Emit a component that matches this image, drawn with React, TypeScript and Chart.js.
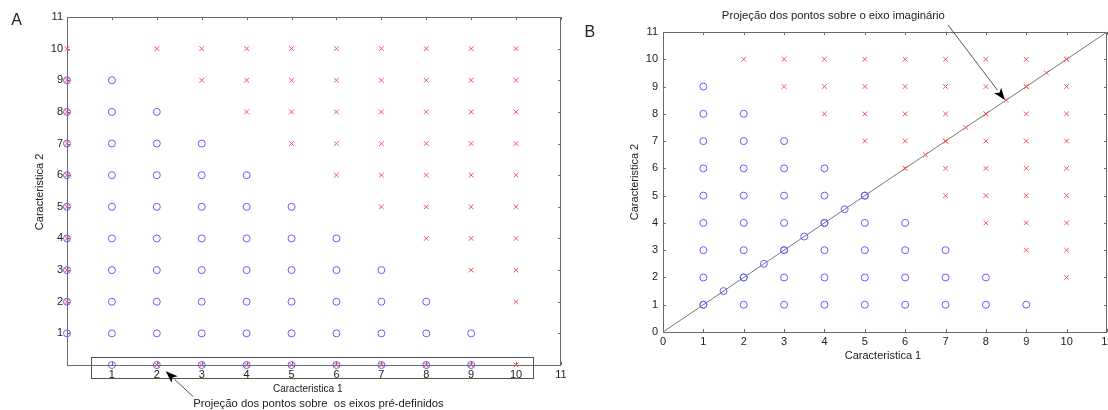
import React, { useEffect, useRef } from 'react';
import { Chart, registerables } from 'chart.js';

Chart.register(...registerables);

// ---------- data ----------
const AXIS_MIN = 0;
const AXIS_MAX = 11;
const tickValues = [0, 1, 2, 3, 4, 5, 6, 7, 8, 9, 10, 11];

// class 1 (blue circles): one row per y value, listing its x values
const circleRowY = [1, 2, 3, 4, 5, 6, 7, 8, 9];
const circleRowX = [
  [1, 2, 3, 4, 5, 6, 7, 8, 9],
  [1, 2, 3, 4, 5, 6, 7, 8],
  [1, 2, 3, 4, 5, 6, 7],
  [1, 2, 3, 4, 5, 6],
  [1, 2, 3, 4, 5],
  [1, 2, 3, 4],
  [1, 2, 3],
  [1, 2],
  [1],
];

// class 2 (red crosses)
const crossRowY = [2, 3, 4, 5, 6, 7, 8, 9, 10];
const crossRowX = [
  [10],
  [9, 10],
  [8, 9, 10],
  [7, 8, 9, 10],
  [6, 7, 8, 9, 10],
  [5, 6, 7, 8, 9, 10],
  [4, 5, 6, 7, 8, 9, 10],
  [3, 4, 5, 6, 7, 8, 9, 10],
  [2, 3, 4, 5, 6, 7, 8, 9, 10],
];

const axisTitleX = 'Caracteristica 1';
const axisTitleY = 'Caracteristica 2';
const noteA = 'Projeção dos pontos sobre  os eixos pré-definidos';
const noteB = 'Projeção dos pontos sobre o eixo imaginário';

// ---------- derived points ----------
type P = { x: number; y: number };
const toPoints = (ys: number[], xs: number[][]): P[] =>
  ys.flatMap((y, i) => xs[i].map((x) => ({ x, y })));

const circlePts = toPoints(circleRowY, circleRowX);
const crossPts = toPoints(crossRowY, crossRowX);

const uniq = (a: number[]) => Array.from(new Set(a)).sort((p, q) => p - q);
// projections onto the predefined axes
const projOnAxes = (pts: P[]): P[] => [
  ...uniq(pts.map((p) => p.y)).map((y) => ({ x: 0, y })),
  ...uniq(pts.map((p) => p.x)).map((x) => ({ x, y: 0 })),
];
// projections onto the diagonal y = x
const projOnDiag = (pts: P[]): P[] =>
  uniq(pts.map((p) => (p.x + p.y) / 2)).map((m) => ({ x: m, y: m }));

// ---------- styles ----------
const FONT = "'Liberation Sans', Arial, sans-serif";
const BLUE = 'rgb(95,95,255)';
const RED = 'rgb(255,80,80)';
const AXIS = '#6a6a6a';
const TEXT = '#222';

const circleStyle = {
  pointStyle: 'circle',
  pointRadius: 3.5,
  pointBorderWidth: 1,
  pointBorderColor: BLUE,
  pointBackgroundColor: 'rgba(0,0,0,0)',
  showLine: false,
  clip: false as any,
};
const crossStyle = {
  pointStyle: 'crossRot',
  pointRadius: 3.3,
  pointBorderWidth: 1,
  pointBorderColor: RED,
  pointBackgroundColor: RED,
  showLine: false,
  clip: false as any,
};

function arrow(ctx: CanvasRenderingContext2D, x0: number, y0: number, x1: number, y1: number) {
  const ang = Math.atan2(y1 - y0, x1 - x0);
  const len = 12;
  const hw = 4.5;
  const bx = x1 - len * Math.cos(ang);
  const by = y1 - len * Math.sin(ang);
  ctx.strokeStyle = '#555';
  ctx.lineWidth = 1;
  ctx.beginPath();
  ctx.moveTo(x0, y0);
  ctx.lineTo(bx, by);
  ctx.stroke();
  ctx.fillStyle = '#000';
  ctx.beginPath();
  ctx.moveTo(x1, y1);
  ctx.lineTo(bx + hw * Math.sin(ang), by - hw * Math.cos(ang));
  ctx.lineTo(bx + 3 * Math.cos(ang), by + 3 * Math.sin(ang));
  ctx.lineTo(bx - hw * Math.sin(ang), by + hw * Math.cos(ang));
  ctx.closePath();
  ctx.fill();
}

type Decor = {
  letter: string;
  letterAt: [number, number];
  xTitleAt: [number, number];
  xTitleSize: number;
  yTitleAt: [number, number];
  note: string;
  noteAt: [number, number];
  noteAlign: CanvasTextAlign;
  arrowFrom: [number, number];
  arrowTo: [number, number];
  box?: [number, number, number, number];
};

function makeDecor(d: Decor) {
  return {
    id: 'decor',
    beforeDatasetsDraw(chart: any) {
      const { ctx, chartArea: a, scales } = chart;
      const sx = scales.x;
      const sy = scales.y;
      ctx.save();
      ctx.strokeStyle = AXIS;
      ctx.lineWidth = 1;
      ctx.strokeRect(a.left + 0.5, a.top + 0.5, a.right - a.left - 1, a.bottom - a.top);
      const tl = 3;
      ctx.beginPath();
      tickValues.forEach((v) => {
        const px = Math.round(sx.getPixelForValue(v)) + 0.5;
        ctx.moveTo(px, a.bottom);
        ctx.lineTo(px, a.bottom - tl);
        ctx.moveTo(px, a.top);
        ctx.lineTo(px, a.top + tl);
        const py = Math.round(sy.getPixelForValue(v)) + 0.5;
        ctx.moveTo(a.left, py);
        ctx.lineTo(a.left + tl, py);
        ctx.moveTo(a.right, py);
        ctx.lineTo(a.right - tl, py);
      });
      ctx.stroke();
      ctx.restore();
    },
    afterDatasetsDraw(chart: any) {
      const { ctx, scales } = chart;
      const X = (v: number) => scales.x.getPixelForValue(v);
      const Y = (v: number) => scales.y.getPixelForValue(v);
      ctx.save();
      ctx.fillStyle = TEXT;
      ctx.textBaseline = 'middle';
      // panel letter
      ctx.font = `16px ${FONT}`;
      ctx.textAlign = 'center';
      ctx.fillText(d.letter, X(d.letterAt[0]), Y(d.letterAt[1]));
      // axis titles
      ctx.font = `${d.xTitleSize}px ${FONT}`;
      ctx.fillText(axisTitleX, X(d.xTitleAt[0]), Y(d.xTitleAt[1]));
      ctx.save();
      ctx.font = `11px ${FONT}`;
      ctx.translate(X(d.yTitleAt[0]), Y(d.yTitleAt[1]));
      ctx.rotate(-Math.PI / 2);
      ctx.fillText(axisTitleY, 0, 0);
      ctx.restore();
      // note
      ctx.font = `11.3px ${FONT}`;
      ctx.textAlign = d.noteAlign;
      ctx.fillText(d.note, X(d.noteAt[0]), Y(d.noteAt[1]));
      // box
      if (d.box) {
        const [x0, y0, x1, y1] = d.box;
        ctx.strokeStyle = '#555';
        ctx.lineWidth = 1;
        const l = Math.round(X(x0)) + 0.5;
        const t = Math.round(Y(y0)) + 0.5;
        const r = Math.round(X(x1)) + 0.5;
        const b = Math.round(Y(y1)) + 0.5;
        ctx.strokeRect(l, t, r - l, b - t);
      }
      arrow(ctx, X(d.arrowFrom[0]), Y(d.arrowFrom[1]), X(d.arrowTo[0]), Y(d.arrowTo[1]));
      ctx.restore();
    },
  };
}

function scaleOpts(pos: 'x' | 'y', size: number, pad: number, showZero: boolean) {
  return {
    type: 'linear',
    position: pos === 'x' ? 'bottom' : 'left',
    min: AXIS_MIN,
    max: AXIS_MAX,
    grid: { display: false, drawTicks: false, tickLength: 0 },
    border: { display: false },
    ticks: {
      stepSize: 1,
      autoSkip: false,
      maxRotation: 0,
      padding: pad,
      color: TEXT,
      font: { family: FONT, size: 11 },
      callback: (v: any) => (!showZero && Number(v) === 0 ? '' : String(v)),
    },
    afterFit: (s: any) => {
      if (pos === 'x') s.height = size;
      else s.width = size;
    },
  };
}

function buildA(canvas: HTMLCanvasElement) {
  return new Chart(canvas, {
    type: 'scatter',
    data: {
      datasets: [
        { data: crossPts, ...crossStyle },
        { data: projOnAxes(crossPts), ...crossStyle },
        { data: circlePts, ...circleStyle },
        { data: projOnAxes(circlePts), ...circleStyle },
      ] as any,
    },
    options: {
      responsive: false,
      animation: false,
      devicePixelRatio: 1,
      layout: { padding: { left: 0, top: 17, right: 19, bottom: 0 } },
      plugins: { legend: { display: false }, tooltip: { enabled: false } },
      events: [],
      scales: {
        x: scaleOpts('x', 45, 3, false),
        y: scaleOpts('y', 67, 4, false),
      } as any,
    },
    plugins: [
      makeDecor({
        letter: 'A',
        letterAt: [-1.12, 10.9],
        xTitleAt: [5.36, -0.76],
        xTitleSize: 10,
        yTitleAt: [-0.6, 5.47],
        note: noteA,
        noteAt: [2.81, -1.23],
        noteAlign: 'left',
        arrowFrom: [2.81, -1.0],
        arrowTo: [2.2, -0.2],
        box: [0.54, 0.25, 10.38, -0.41],
      }),
    ],
  });
}

function buildB(canvas: HTMLCanvasElement) {
  return new Chart(canvas, {
    type: 'scatter',
    data: {
      datasets: [
        { data: crossPts, ...crossStyle },
        { data: projOnDiag(crossPts), ...crossStyle },
        { data: circlePts, ...circleStyle },
        { data: projOnDiag(circlePts), ...circleStyle },
        {
          data: [
            { x: AXIS_MIN, y: AXIS_MIN },
            { x: AXIS_MAX, y: AXIS_MAX },
          ],
          showLine: true,
          borderColor: '#777',
          borderWidth: 1,
          pointRadius: 0,
          clip: false,
        },
      ] as any,
    },
    options: {
      responsive: false,
      animation: false,
      devicePixelRatio: 1,
      layout: { padding: { left: 0, top: 32, right: 13, bottom: 0 } },
      plugins: { legend: { display: false }, tooltip: { enabled: false } },
      events: [],
      scales: {
        x: scaleOpts('x', 78, 3, true),
        y: scaleOpts('y', 83, 5, true),
      } as any,
    },
    plugins: [
      makeDecor({
        letter: 'B',
        letterAt: [-1.81, 10.96],
        xTitleAt: [5.45, -0.88],
        xTitleSize: 11,
        yTitleAt: [-0.69, 5.5],
        note: noteB,
        noteAt: [4.22, 11.59],
        noteAlign: 'center',
        arrowFrom: [7.06, 11.26],
        arrowTo: [8.47, 8.51],
      }),
    ],
  });
}

function Panel({ build, left, width }: { build: (c: HTMLCanvasElement) => Chart; left: number; width: number }) {
  const ref = useRef<HTMLCanvasElement>(null);
  useEffect(() => {
    const chart = build(ref.current!);
    return () => chart.destroy();
  }, [build]);
  return (
    <canvas
      ref={ref}
      width={width}
      height={410}
      style={{ position: 'absolute', left, top: 0, width, height: 410, display: 'block' }}
    />
  );
}

export default function App() {
  return (
    <div
      style={{
        position: 'fixed',
        left: 0,
        top: 0,
        width: 1108,
        height: 410,
        overflow: 'hidden',
        background: '#fff',
      }}
    >
      <Panel build={buildA} left={0} width={580} />
      <Panel build={buildB} left={580} width={540} />
    </div>
  );
}
